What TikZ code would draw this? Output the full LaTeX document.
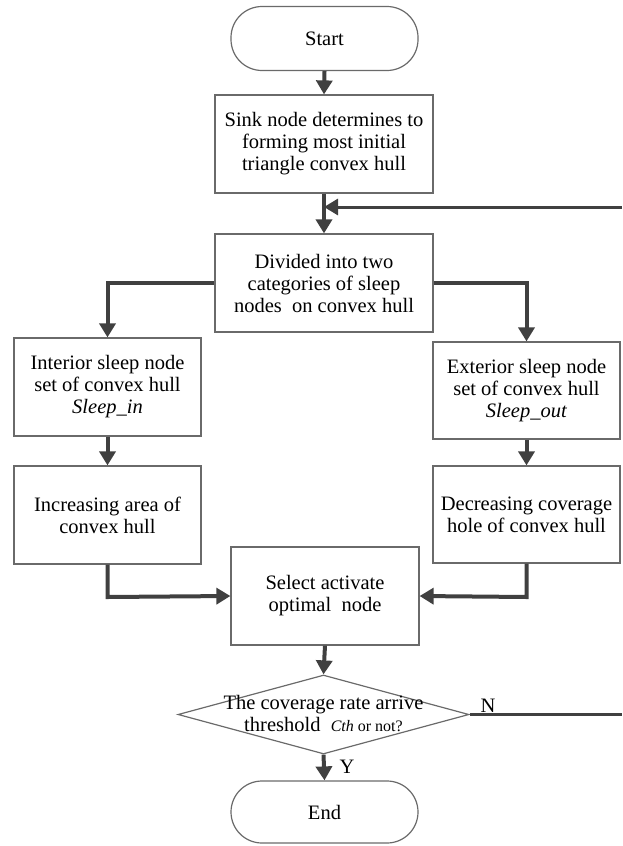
\documentclass[tikz,border=0pt]{standalone}
\usepackage{fontspec}
\setmainfont{Liberation Serif}
\usetikzlibrary{arrows.meta,shapes.geometric}
\definecolor{linec}{HTML}{404040}
\definecolor{boxc}{HTML}{6A6A6A}
\tikzset{
  box/.style={draw=boxc,line width=1.2pt,minimum width=187pt,minimum height=98pt,align=center,inner sep=2pt,font=\fontsize{20.5}{22}\selectfont},
  term/.style={box,rounded corners=31pt,minimum height=64pt},
  flow/.style={draw=linec,line width=4pt,-{Triangle[width=16pt,length=14pt]}},
  plain/.style={draw=linec,line width=3pt},
  lbl/.style={font=\fontsize{20.5}{22}\selectfont,inner sep=0pt}
}
\begin{document}
\begin{tikzpicture}[x=1pt,y=-1pt]
\useasboundingbox (0,0) rectangle (622,846);
\node[term] (start) at (324.5,38.5) {Start};
\node[box,minimum width=218pt] (sink) at (324,144) {Sink node determines to\\forming most initial\\triangle convex hull};
\node[box,minimum width=218pt] (div) at (324,283) {Divided into two\\categories of sleep\\nodes\ \ on convex hull};
\node[box] (inter) at (107.5,387) {Interior sleep node\\set of convex hull\\\textit{Sleep\_in}};
\node[box,minimum height=97pt] (exter) at (526.5,390.5) {Exterior sleep node\\set of convex hull\\\textit{Sleep\_out}};
\node[box] (incr) at (107.5,515) {Increasing area of\\convex hull};
\node[box,minimum height=97pt] (decr) at (526.5,514.5) {Decreasing coverage\\hole of convex hull};
\node[box,minimum width=188pt] (sel) at (325,596) {Select activate\\optimal\ \ node};
\node[diamond,draw=boxc,line width=1.2pt,minimum width=291pt,minimum height=79pt,aspect=3.68,inner sep=0pt] (dia) at (323.5,714.5) {};
\node[lbl,align=center] (diatext) at (323.5,713) {The coverage rate arrive\\threshold\ \ {\fontsize{16}{16}\selectfont\textit{Cth} or not?}};
\node[term,minimum height=62pt] (end) at (324.5,812) {End};
\coordinate (fbin) at (622,207);
\coordinate (fbout) at (622,714.5);
\coordinate (lturn) at (107.5,283);
\coordinate (rturn) at (526.5,283);
\coordinate (lbot) at (107.5,597);
\coordinate (rbot) at (526.5,597);
\path[flow] (start.south) -- (sink.north);
\path[flow] (sink.south) -- (div.north);
\path[draw=linec,line width=3pt,-{Triangle[width=16pt,length=14pt]}] (fbin) -- (sink.south |- fbin);
\path[flow] (div.west) -- (lturn) -- (inter.north);
\path[flow] (div.east) -- (rturn) -- (exter.north);
\path[flow] (inter.south) -- (incr.north);
\path[flow] (exter.south) -- (decr.north);
\path[flow] (incr.south) -- (lbot) -- (sel.west);
\path[flow] (decr.south) -- (rbot) -- (sel.east);
\path[flow] (sel.south) -- (dia.north);
\path[flow] (dia.south) -- (end.north);
\path[plain] (dia.east) -- (fbout);
\node[lbl] (nlab) at (488,706) {N};
\node[lbl] (ylab) at (347,767) {Y};
\end{tikzpicture}
\end{document}
